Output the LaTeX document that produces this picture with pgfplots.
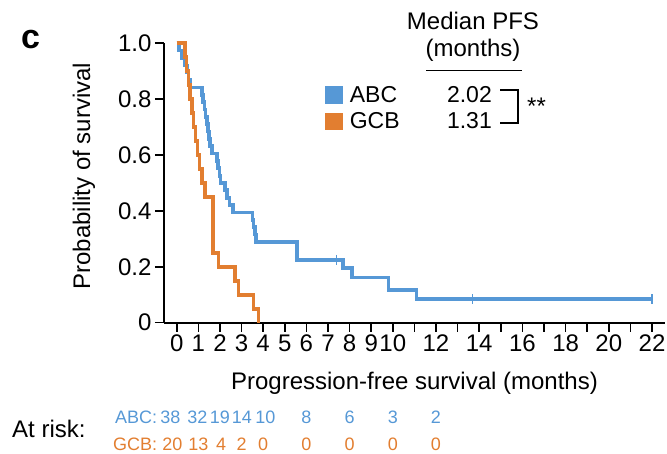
\documentclass[border=0pt]{standalone}
\usepackage{fontspec}
\setmainfont{Liberation Sans}
\usepackage{pgfplots}
\pgfplotsset{compat=1.18}
\definecolor{ablue}{RGB}{86,152,214}
\definecolor{gorange}{RGB}{226,126,48}
\begin{document}
\begin{tikzpicture}[x=1pt,y=1pt]
\useasboundingbox (-164,-131.3) rectangle (503,322.7);
\begin{axis}[
  at={(0,0)}, anchor=south west,
  scale only axis, width=501pt, height=279.4pt,
  xmin=-0.59, xmax=22.6, ymin=0, ymax=1,
  clip=false,
  axis lines=left,
  axis line style={-, line width=1.8pt},
  tick style={line width=1.6pt, black},
  tick align=outside, major tick length=9pt,
  xtick={0,1,...,22},
  xticklabels={0,1,2,3,4,5,6,7,8,9,10,,12,,14,,16,,18,,20,,22},
  ytick={0,0.2,0.4,0.6,0.8,1.0},
  yticklabels={0,0.2,0.4,0.6,0.8,1.0},
  /pgf/number format/assume math mode=true,
  tick label style={font=\fontsize{24}{28}\selectfont},
  label style={font=\fontsize{24}{28}\selectfont},
  xlabel={Progression-free survival (months)},
  ylabel={Probability of survival},
  xlabel style={at={(axis description cs:0.5,0)}, anchor=north, yshift=-46pt},
  ylabel style={at={(axis description cs:-0.16,0.525)}, anchor=center},
  legend style={draw=none, fill=none, at={(rel axis cs:0.3214,0.855)}, anchor=north west,
    inner sep=0pt, row sep=5pt, font=\fontsize{23}{27}\selectfont, cells={anchor=west}},
  legend image code/.code={\fill[#1] (0pt,-7pt) rectangle (14pt,7pt);},
]
\addplot[const plot, color=ablue, line width=3.6pt] coordinates {
(0,1.0) (0.1,0.974) (0.25,0.947) (0.38,0.921) (0.47,0.895) (0.55,0.868) (0.62,0.842)
(1.16,0.816) (1.22,0.789) (1.28,0.763) (1.34,0.737) (1.40,0.711) (1.45,0.684) (1.50,0.658)
(1.55,0.632) (1.62,0.605) (1.85,0.579) (1.92,0.553) (1.97,0.526) (2.02,0.500) (2.22,0.474)
(2.33,0.447) (2.45,0.421) (2.60,0.395) (3.50,0.368) (3.55,0.342) (3.62,0.316) (3.67,0.289)
(5.56,0.225) (7.7,0.196) (8.1,0.162) (9.8,0.117) (11.1,0.084) (22,0.084)};
\addlegendentry{\hspace{5pt}\makebox[142pt][l]{ABC\hfill 2.02}}
\addplot[const plot, color=gorange, line width=3.6pt] coordinates {
(0,1.0) (0.38,0.95) (0.46,0.90) (0.54,0.85) (0.62,0.80) (0.70,0.75) (0.78,0.70)
(0.87,0.65) (0.96,0.60) (1.05,0.55) (1.16,0.50) (1.31,0.45) (1.69,0.25) (1.93,0.20)
(2.70,0.15) (2.85,0.10) (3.55,0.05) (3.78,0.0)};
\addlegendentry{\hspace{5pt}\makebox[142pt][l]{GCB\hfill 1.31}}
\addplot[forget plot, only marks, mark=|, mark size=5pt, color=ablue, line width=1.5pt]
  coordinates {(7.4,0.225) (13.7,0.084) (22,0.084)};
% at risk numbers
\begin{scope}[every node/.style={font=\fontsize{18}{22}\selectfont, inner sep=0pt, anchor=base}]
\node[text=ablue, anchor=base east] at (axis cs:-0.9,-0.359) {ABC:};
\node[text=ablue] at (axis cs:-0.3,-0.359) {38};
\node[text=ablue] at (axis cs:0.95,-0.359) {32};
\node[text=ablue] at (axis cs:2,-0.359) {19};
\node[text=ablue] at (axis cs:3.02,-0.359) {14};
\node[text=ablue] at (axis cs:4.1,-0.359) {10};
\node[text=ablue] at (axis cs:6,-0.359) {8};
\node[text=ablue] at (axis cs:8,-0.359) {6};
\node[text=ablue] at (axis cs:10,-0.359) {3};
\node[text=ablue] at (axis cs:12,-0.359) {2};
\node[text=gorange, anchor=base east] at (axis cs:-0.9,-0.457) {GCB:};
\node[text=gorange] at (axis cs:-0.2,-0.457) {20};
\node[text=gorange] at (axis cs:1,-0.457) {13};
\node[text=gorange] at (axis cs:2.05,-0.457) {4};
\node[text=gorange] at (axis cs:3,-0.457) {2};
\node[text=gorange] at (axis cs:4,-0.457) {0};
\node[text=gorange] at (axis cs:6,-0.457) {0};
\node[text=gorange] at (axis cs:8,-0.457) {0};
\node[text=gorange] at (axis cs:10,-0.457) {0};
\node[text=gorange] at (axis cs:12,-0.457) {0};
\end{scope}
\end{axis}
\node[anchor=base west, inner sep=0pt, font=\fontsize{24}{28}\selectfont] at (-152,-115.3) {At risk:};
\node[anchor=base west, inner sep=0pt, font=\bfseries\fontsize{34}{40}\selectfont] at (-143,273.7) {c};
\node[anchor=base, inner sep=0pt, font=\fontsize{24}{28}\selectfont] at (309,292.7) {Median PFS};
\node[anchor=base, inner sep=0pt, font=\fontsize{24}{28}\selectfont] at (309,265.7) {(months)};
\draw[line width=1.5pt] (262,252) -- (358,252);
\draw[line width=1.5pt] (336,232.7) -- (354,232.7) -- (354,199.7) -- (336,199.7);
\node[anchor=base west, inner sep=0pt, font=\fontsize{24}{28}\selectfont] at (363,208.5) {**};
\end{tikzpicture}
\end{document}
